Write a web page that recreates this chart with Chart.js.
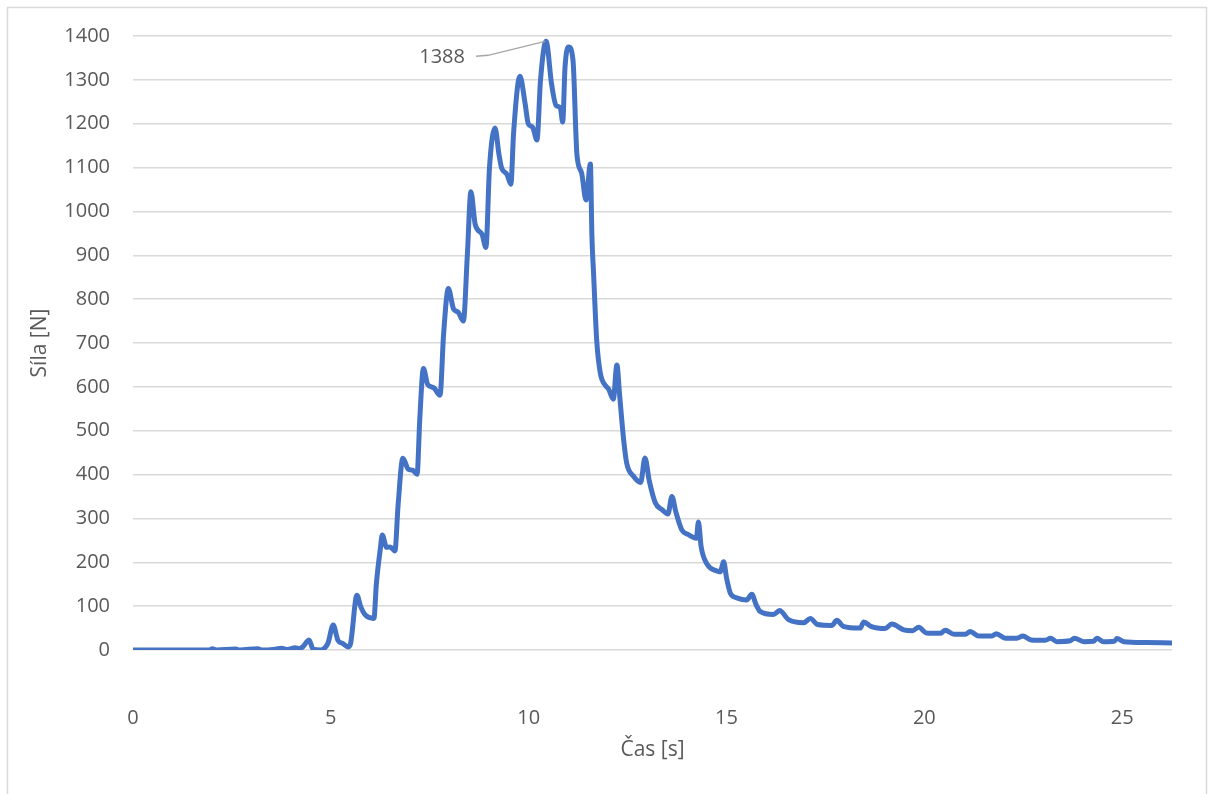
<!DOCTYPE html>
<html>
<head>
<meta charset="utf-8">
<script src="https://cdn.jsdelivr.net/npm/chart.js@4/dist/chart.umd.min.js"></script>
<style>
  html, body { margin: 0; padding: 0; background: #ffffff; }
  #wrap { width: 1213px; height: 794px; position: relative; }
</style>
</head>
<body>
<div id="wrap"><canvas id="chart" width="1213" height="794"></canvas></div>
<script>
// Measured force over time
const times = [
  0, 0.5, 1.0, 1.5, 1.95, 2.0, 2.1, 2.6, 2.7, 3.15, 3.25, 3.6, 3.75, 3.9, 4.1, 4.2, 4.3, 4.45, 4.55, 4.75,
  4.85, 4.93, 5.06, 5.18, 5.3, 5.44, 5.5, 5.66, 5.75, 5.87, 6.09, 6.15, 6.25, 6.3, 6.41, 6.5, 6.62, 6.7, 6.82, 6.96,
  7.07, 7.18, 7.25, 7.34, 7.45, 7.6, 7.76, 7.85, 7.97, 8.1, 8.22, 8.35, 8.45, 8.54, 8.65, 8.82, 8.92, 9.01, 9.15, 9.25,
  9.32, 9.45, 9.55, 9.62, 9.78, 9.91, 9.99, 10.10, 10.21, 10.3, 10.44, 10.58, 10.69, 10.80, 10.86, 10.92, 11.01, 11.12, 11.22, 11.34,
  11.45, 11.56, 11.6, 11.64, 11.72, 11.81, 11.94, 12.02, 12.14, 12.23, 12.30, 12.40, 12.48, 12.65, 12.83, 12.94, 13.05, 13.2, 13.37, 13.52,
  13.62, 13.72, 13.87, 14.04, 14.24, 14.29, 14.36, 14.5, 14.76, 14.84, 14.93, 15.0, 15.1, 15.26, 15.51, 15.64, 15.75, 15.85, 16.19, 16.34,
  16.57, 16.95, 17.12, 17.3, 17.66, 17.79, 17.95, 18.38, 18.47, 18.65, 19.01, 19.18, 19.48, 19.7, 19.86, 20.05, 20.4, 20.53, 20.75, 21.04,
  21.16, 21.37, 21.71, 21.82, 22.05, 22.34, 22.49, 22.7, 23.06, 23.19, 23.35, 23.69, 23.79, 24.03, 24.28, 24.36, 24.53, 24.8, 24.87, 25.04,
  25.6, 26.26
];
const forces = [
  0, 0, 0, 0, 0, 3, 0, 2, 0, 3, 0, 2, 4, 1, 5, 3, 8, 23, 2, 0,
  5, 16, 57, 22, 15, 7, 15, 125, 100, 80, 72, 150, 230, 262, 234, 235, 226, 330, 437, 412,
  410, 401, 530, 642, 605, 598, 581, 720, 824, 778, 770, 750, 900, 1045, 970, 948, 918, 1100, 1190, 1130,
  1098, 1085, 1062, 1180, 1308, 1246, 1200, 1192, 1163, 1300, 1388, 1290, 1242, 1236, 1204, 1330, 1375, 1345, 1130, 1087,
  1026, 1108, 940, 860, 706, 632, 603, 595, 572, 650, 580, 480, 425, 396, 382, 438, 385, 336, 320, 310,
  350, 315, 274, 263, 255, 292, 235, 197, 180, 178, 201, 165, 129, 119, 114, 127, 103, 88, 81, 90,
  69, 62, 72, 58, 56, 68, 54, 50, 64, 54, 49, 59, 46, 44, 52, 39, 38, 45, 36, 36,
  42, 32, 32, 37, 27, 27, 32, 23, 22, 27, 19, 21, 27, 19, 20, 27, 19, 20, 26, 19,
  17, 16
];
const xTicks = [0, 5, 10, 15, 20, 25];
const yTicks = [0, 100, 200, 300, 400, 500, 600, 700, 800, 900, 1000, 1100, 1200, 1300, 1400];
const xTitle = 'Čas [s]';
const yTitle = 'Síla [N]';

const FONT = '"Open Sans", "Noto Sans", sans-serif';
const TEXT = '#595959';
const GRID = '#d9d9d9';
const BLUE = '#4472C4';

const points = times.map((t, i) => ({ x: t, y: forces[i] }));

// Index of the maximum value, labelled with a leader line
let peakIdx = 0;
forces.forEach((v, i) => { if (v > forces[peakIdx]) peakIdx = i; });

const framePlugin = {
  id: 'frame',
  beforeDraw(chart) {
    const ctx = chart.ctx;
    ctx.save();
    ctx.fillStyle = '#ffffff';
    ctx.fillRect(0, 0, chart.width, chart.height);
    ctx.strokeStyle = GRID;
    ctx.lineWidth = 1.5;
    ctx.strokeRect(7.5, 7.5, 1199, 820);
    ctx.restore();
  }
};

const peakLabelPlugin = {
  id: 'peakLabel',
  afterDatasetsDraw(chart) {
    const ctx = chart.ctx;
    const px = chart.scales.x.getPixelForValue(times[peakIdx]);
    const py = chart.scales.y.getPixelForValue(forces[peakIdx]);
    const lx = px - 104, ly = py + 16;
    ctx.save();
    ctx.strokeStyle = '#a6a6a6';
    ctx.lineWidth = 1.3;
    ctx.beginPath();
    ctx.moveTo(lx + 34, ly - 1);
    ctx.lineTo(lx + 46, ly - 2);
    ctx.lineTo(px - 1, py);
    ctx.stroke();
    ctx.fillStyle = TEXT;
    ctx.font = '20px ' + FONT;
    ctx.textAlign = 'center';
    ctx.textBaseline = 'middle';
    ctx.fillText(String(forces[peakIdx]), lx, ly);
    ctx.restore();
  }
};

new Chart(document.getElementById('chart'), {
  type: 'line',
  data: {
    datasets: [{
      data: points,
      borderColor: BLUE,
      borderWidth: 5,
      pointRadius: 0,
      cubicInterpolationMode: 'monotone',
      fill: false
    }]
  },
  options: {
    responsive: false,
    animation: false,
    layout: { padding: { left: 0, top: 36, right: 41, bottom: 0 } },
    plugins: { legend: { display: false }, tooltip: { enabled: false } },
    scales: {
      x: {
        type: 'linear',
        min: 0,
        max: 26.26,
        afterBuildTicks(scale) { scale.ticks = xTicks.map(v => ({ value: v })); },
        afterFit(scale) { scale.height = 794 - 650; },
        grid: { display: false, drawTicks: false },
        border: { display: false },
        ticks: {
          padding: 56,
          maxRotation: 0,
          color: TEXT,
          font: { family: FONT, size: 20 },
          callback: v => String(v)
        },
        title: {
          display: true,
          text: xTitle,
          color: TEXT,
          font: { family: FONT, size: 21 },
          padding: { top: 0, bottom: 31 }
        }
      },
      y: {
        type: 'linear',
        min: 0,
        max: 1400,
        afterBuildTicks(scale) { scale.ticks = yTicks.map(v => ({ value: v })); },
        afterFit(scale) { scale.width = 133; },
        grid: { color: GRID, lineWidth: 1.5, drawTicks: false },
        border: { display: false },
        ticks: {
          padding: 23,
          color: TEXT,
          font: { family: FONT, size: 20 },
          callback: v => String(v)
        },
        title: {
          display: true,
          text: yTitle,
          color: TEXT,
          font: { family: FONT, size: 21 },
          padding: { top: 27, bottom: 0 }
        }
      }
    }
  },
  plugins: [framePlugin, peakLabelPlugin]
});
</script>
</body>
</html>
